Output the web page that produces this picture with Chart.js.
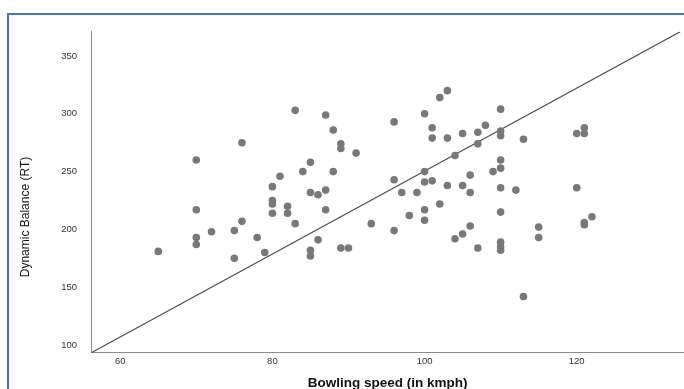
<!DOCTYPE html>
<html>
<head>
<meta charset="utf-8">
<script src="https://cdn.jsdelivr.net/npm/chart.js@4"></script>
<style>
    html, body { margin: 0; padding: 0; background: #fff; overflow: hidden; }
    #frame {
        position: absolute; left: 7px; top: 13px; width: 700px; height: 400px;
        border: 2px solid #4a72c0; box-sizing: border-box;
    }
    #myChart { position: absolute; left: 0; top: 0; }
</style>
</head>
<body>
<div id="frame"></div>
<canvas id="myChart" width="684" height="389"></canvas>
<script>
// Bowling speed (kmph) vs dynamic balance (RT)
const speeds = [
    76, 70, 81, 80, 80, 80, 82, 80, 82, 70, 76, 75, 72, 70, 78, 70, 65, 79, 75,
    83, 87, 88, 89, 89, 91, 85, 84, 88, 85, 86, 87, 83, 87, 86, 85, 85, 89, 90, 93,
    96, 96, 96, 97, 99, 98, 100, 100, 100, 101, 101, 101, 100, 100, 102, 103, 103,
    102, 104, 105, 107, 107, 106, 105, 106, 103, 106, 105, 104, 107,
    110, 108, 110, 110, 113, 120, 121, 121, 110, 110, 109, 110, 112, 120, 110,
    110, 110, 110, 115, 115, 122, 121, 121, 113
];
const balance = [
    275, 260, 246, 237, 225, 222, 220, 214, 214, 217, 207, 199, 198, 193, 193, 187, 181, 180, 175,
    303, 299, 286, 274, 270, 266, 258, 250, 250, 232, 230, 234, 205, 217, 191, 182, 177, 184, 184, 205,
    293, 243, 199, 232, 232, 212, 300, 250, 241, 242, 288, 279, 217, 208, 314, 320, 279,
    222, 264, 283, 284, 274, 247, 238, 232, 238, 203, 196, 192, 184,
    304, 290, 285, 281, 278, 283, 288, 283, 260, 253, 250, 236, 234, 236, 215,
    189, 185, 182, 202, 193, 211, 204, 206, 142
];

// reference line, corner to corner
const lineX = [56.2, 133.6];
const lineY = [93.4, 371];

const xTicks = [60, 80, 100, 120];
const yTicks = [100, 150, 200, 250, 300, 350];

const points = speeds.map((s, i) => ({ x: s, y: balance[i] }));
const linePts = lineX.map((x, i) => ({ x: x, y: lineY[i] }));

// y title sits lower than the axis centre in the original
const yTitlePlugin = {
    id: 'yTitle',
    afterDraw(chart) {
        const c = chart.ctx;
        c.save();
        c.translate(26, 217);
        c.rotate(-Math.PI / 2);
        c.font = '12px "Liberation Sans", Arial, sans-serif';
        c.fillStyle = '#111';
        c.textAlign = 'center';
        c.textBaseline = 'middle';
        c.fillText('Dynamic Balance (RT)', 0, 0);
        c.restore();
    }
};

const ctx = document.getElementById('myChart').getContext('2d');
new Chart(ctx, {
    type: 'scatter',
    data: {
        datasets: [{
            label: 'Players',
            data: points,
            backgroundColor: '#787878',
            borderWidth: 0,
            pointRadius: 3.8,
            pointHoverRadius: 3.8
        }, {
            type: 'line',
            label: 'Reference',
            data: linePts,
            borderColor: '#4a4a4a',
            borderWidth: 1.2,
            pointRadius: 0,
            fill: false
        }]
    },
    options: {
        responsive: false,
        animation: false,
        devicePixelRatio: 1,
        layout: { padding: { top: 31.7, left: 0, right: 0, bottom: 0 }, autoPadding: false },
        plugins: { legend: { display: false }, tooltip: { enabled: false } },
        scales: {
            x: {
                type: 'linear',
                min: 56.2,
                max: 134.1,
                afterFit: scale => { scale.height = 36.3; },
                afterBuildTicks: axis => { axis.ticks = xTicks.map(v => ({ value: v })); },
                grid: { display: false, drawTicks: false },
                border: { display: true, color: '#8a8a8a', width: 1 },
                ticks: {
                    padding: 3,
                    color: '#333',
                    font: { family: 'Liberation Sans, Arial, sans-serif', size: 9.5 }
                },
                title: {
                    display: true,
                    text: 'Bowling speed (in kmph)',
                    color: '#111',
                    padding: { top: 0, bottom: 0 },
                    font: { family: 'Liberation Sans, Arial, sans-serif', size: 13.5, weight: 'bold', lineHeight: 0.85 }
                }
            },
            y: {
                type: 'linear',
                min: 93.4,
                max: 371,
                afterFit: scale => { scale.width = 91.3; },
                afterBuildTicks: axis => { axis.ticks = yTicks.map(v => ({ value: v })); },
                grid: { display: false, drawTicks: false },
                border: { display: true, color: '#8a8a8a', width: 1 },
                ticks: {
                    padding: 14.3,
                    color: '#333',
                    font: { family: 'Liberation Sans, Arial, sans-serif', size: 9.5 }
                },
                title: { display: false }
            }
        }
    },
    plugins: [yTitlePlugin]
});
</script>
</body>
</html>
